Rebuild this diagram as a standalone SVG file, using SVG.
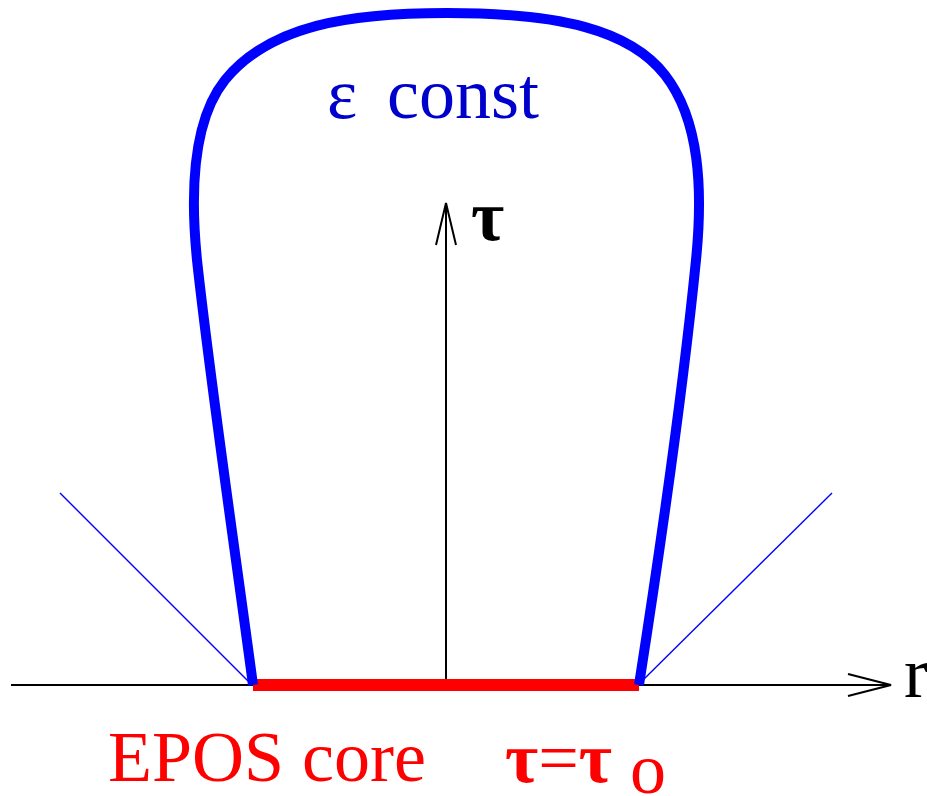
<svg xmlns="http://www.w3.org/2000/svg" width="927" height="796" viewBox="0 0 927 796">
<style>
.ax{fill:none;stroke:#000;stroke-width:2}
.thin{fill:none;stroke:#0000ff;stroke-width:1.4}
.lbl{font-family:"Liberation Serif","Times New Roman",serif;font-size:72px}
.tau{font-weight:bold}
</style>
<rect width="927" height="796" fill="#fff"/>
<g id="connectors">
<line class="ax" x1="11" y1="685" x2="890" y2="685"/>
<polyline class="ax" points="848,674 891,685 848,696"/>
<line class="ax" x1="446" y1="685" x2="446" y2="204"/>
<polyline class="ax" points="436,245 446,203 456,245"/>
<line class="thin" x1="60" y1="493" x2="250" y2="683"/>
<line class="thin" x1="832" y1="493" x2="640" y2="683"/>
</g>
<g id="core">
<line x1="253" y1="685" x2="639" y2="685" stroke="#ff0000" stroke-width="12"/>
</g>
<g id="eps-curve">
<path d="M253,685 C235,550 210,380 197,260 C190,190 193,120 225,80 C270,25 350,13 447,13 C560,13 630,30 665,75 C700,120 703,190 696,260 C684,380 660,550 639,685" fill="none" stroke="#0000ff" stroke-width="10"/>
</g>
<g id="labels">
<text class="lbl" x="327" y="118" fill="#0000cc">ε</text>
<text class="lbl" x="387" y="118" fill="#0000cc">const</text>
<text class="lbl tau" x="471" y="240" font-size="76">τ</text>
<text class="lbl" x="904" y="697" font-size="68">r</text>
<text class="lbl" x="108" y="781" fill="#ff0000">EPOS core</text>
<text class="lbl" x="505" y="782" fill="#ff0000"><tspan class="tau">τ</tspan>=<tspan class="tau">τ</tspan> <tspan dy="11">o</tspan></text>
</g>
</svg>
